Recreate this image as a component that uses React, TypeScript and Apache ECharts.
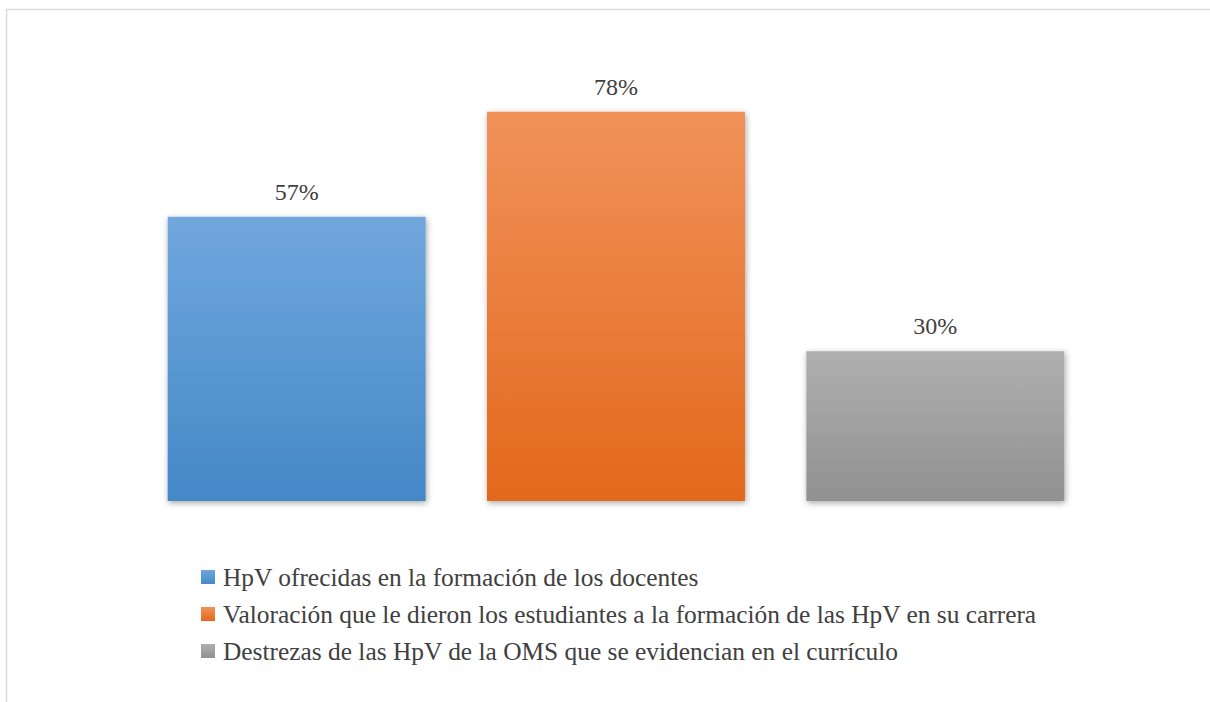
import React, { useEffect, useRef } from "react";
import * as echarts from "echarts";

const categories = ["A", "B", "C"];
const seriesNames = [
  "HpV ofrecidas en la formación de los docentes",
  "Valoración que le dieron los estudiantes a la formación de las HpV en su carrera",
  "Destrezas de las HpV de la OMS que se evidencian en el currículo",
];
const seriesValues = [57, 78, 30];
const gradientTops = ["#70A7DD", "#F1925A", "#AFAFAF"];
const gradientBottoms = ["#4488C7", "#E3681C", "#919191"];

export default function App() {
  const ref = useRef<HTMLDivElement>(null);
  useEffect(() => {
    if (!ref.current) return;
    const chart = echarts.init(ref.current, undefined, { renderer: "svg" });
    const font = "'Liberation Serif', 'Times New Roman', serif";
    const series = seriesNames.map((name, i) => ({
      name,
      type: "bar",
      barWidth: 258,
      barGap: "-100%",
      data: categories.map((_, j) => (j === i ? seriesValues[i] : "-")),
      itemStyle: {
        color: new echarts.graphic.LinearGradient(0, 0, 0, 1, [
          { offset: 0, color: gradientTops[i] },
          { offset: 1, color: gradientBottoms[i] },
        ]),
        shadowBlur: 6,
        shadowOffsetX: 1,
        shadowOffsetY: 2,
        shadowColor: "rgba(0,0,0,0.35)",
      },
      label: {
        show: true,
        position: "top",
        distance: 13,
        formatter: "{c}%",
        fontFamily: font,
        fontSize: 24,
        color: "#404040",
      },
    }));
    chart.setOption({
      animation: false,
      backgroundColor: "#ffffff",
      graphic: [
        {
          type: "rect",
          shape: { x: 6.5, y: 9.5, width: 1400, height: 900 },
          style: { fill: "none", stroke: "#DCDCDC", lineWidth: 1.5 },
          silent: true,
        },
      ],
      grid: { left: 137, right: 115, top: 52, bottom: 201 },
      xAxis: {
        type: "category",
        data: categories,
        show: false,
      },
      yAxis: { type: "value", min: 0, max: 90, show: false },
      legend: {
        orient: "vertical",
        left: 196,
        top: 559,
        itemWidth: 14,
        itemHeight: 14,
        itemGap: 11,
        icon: "rect",
        data: seriesNames,
        textStyle: {
          fontFamily: font,
          fontSize: 25.4,
          color: "#404040",
          padding: [0, 0, 0, 3],
          lineHeight: 26,
        },
      },
      series,
    });
    return () => chart.dispose();
  }, []);
  return (
    <div
      ref={ref}
      style={{ position: "fixed", left: 0, top: 0, width: 1210, height: 702 }}
    />
  );
}
